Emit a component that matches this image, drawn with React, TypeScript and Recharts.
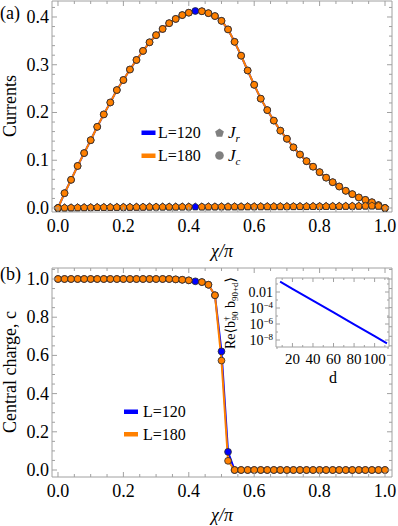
import React from "react";
import { ComposedChart, LineChart, Line, XAxis, YAxis, ReferenceArea } from "recharts";

// chi / pi sampling
const chi = [
  0, 0.02, 0.04, 0.06, 0.08, 0.1, 0.12, 0.14, 0.16, 0.18, 0.2, 0.22, 0.24, 0.26, 0.28, 0.3, 0.32,
  0.34, 0.36, 0.38, 0.4, 0.42, 0.44, 0.46, 0.48, 0.5, 0.52, 0.54, 0.56, 0.58, 0.6, 0.62, 0.64,
  0.66, 0.68, 0.7, 0.72, 0.74, 0.76, 0.78, 0.8, 0.82, 0.84, 0.86, 0.88, 0.9, 0.92, 0.94, 0.96,
  0.98, 1,
];

// panel (a): currents
const jcL120 = [
  0, 0.031, 0.059, 0.088, 0.115, 0.142, 0.17, 0.196, 0.221, 0.247, 0.268, 0.29, 0.31, 0.329,
  0.347, 0.362, 0.375, 0.387, 0.396, 0.404, 0.409, 0.4126, 0.412, 0.408, 0.402, 0.392, 0.374,
  0.348, 0.319, 0.288, 0.258, 0.229, 0.205, 0.183, 0.162, 0.145, 0.127, 0.112, 0.098, 0.0865,
  0.075, 0.0635, 0.054, 0.045, 0.036, 0.029, 0.022, 0.017, 0.012, 0.006, 0,
];
const jcL180 = [
  0, 0.031, 0.059, 0.088, 0.115, 0.142, 0.17, 0.196, 0.221, 0.247, 0.268, 0.29, 0.31, 0.329,
  0.347, 0.362, 0.375, 0.387, 0.396, 0.404, 0.409, null, 0.412, 0.408, 0.402, 0.392, 0.374,
  0.348, 0.319, 0.288, 0.258, 0.229, 0.205, 0.183, 0.162, 0.145, 0.127, 0.112, 0.098, 0.0865,
  0.075, 0.0635, 0.054, 0.045, 0.036, 0.029, 0.022, 0.017, 0.012, 0.006, 0,
];
const jrL120 = [
  0, 0.0003, 0.0005, 0.0007, 0.0009, 0.001, 0.0012, 0.0013, 0.0014, 0.0015, 0.0016, 0.0017,
  0.0018, 0.0019, 0.002, 0.002, 0.0021, 0.0022, 0.0022, 0.0023, 0.0023, 0.0024, 0.0024, 0.0025,
  0.0025, 0.0026, 0.0026, 0.0027, 0.0027, 0.0028, 0.0028, 0.0029, 0.0029, 0.003, 0.003, 0.0031,
  0.0031, 0.0032, 0.0032, 0.0033, 0.0033, 0.0034, 0.0035, 0.0036, 0.0037, 0.0038, 0.004, 0.0042,
  0.0045, 0.004, 0,
];
const jrL180 = [
  0, 0.0003, 0.0005, 0.0007, 0.0009, 0.001, 0.0012, 0.0013, 0.0014, 0.0015, 0.0016, 0.0017,
  0.0018, 0.0019, 0.002, 0.002, 0.0021, 0.0022, 0.0022, 0.0023, 0.0023, null, 0.0024, 0.0025,
  0.0025, 0.0026, 0.0026, 0.0027, 0.0027, 0.0028, 0.0028, 0.0029, 0.0029, 0.003, 0.003, 0.0031,
  0.0031, 0.0032, 0.0032, 0.0033, 0.0033, 0.0034, 0.0035, 0.0036, 0.0037, 0.0038, 0.004, 0.0042,
  0.0045, 0.004, 0,
];

// panel (b): central charge
const cL120 = [
  1, 1, 1, 1, 1, 1, 1, 1, 1, 1, 1, 1, 1, 1, 1, 1, 1, 1, 0.998, 0.996, 0.993, 0.988, 0.984, 0.97,
  0.915, 0.621, 0.095, 0, 0, 0, 0, 0, 0, 0, 0, 0, 0, 0, 0, 0, 0, 0, 0, 0, 0, 0, 0, 0, 0, 0, 0,
];
const cL180 = [
  1, 1, 1, 1, 1, 1, 1, 1, 1, 1, 1, 1, 1, 1, 1, 1, 1, 1, 0.998, 0.996, 0.993, null, 0.984, 0.97,
  0.915, 0.573, 0.048, 0, 0, 0, 0, 0, 0, 0, 0, 0, 0, 0, 0, 0, 0, 0, 0, 0, 0, 0, 0, 0, 0, 0, 0,
];

// inset: correlation vs distance
const insetD = [8, 20, 40, 60, 80, 100, 112];
const insetCorr = [0.195, 0.0251, 8.3e-4, 2.75e-5, 9.1e-7, 3.0e-8, 3.9e-9];

const xMajor = [0, 0.2, 0.4, 0.6, 0.8, 1];
const xTicks = [0, 0.05, 0.1, 0.15, 0.2, 0.25, 0.3, 0.35, 0.4, 0.45, 0.5, 0.55, 0.6, 0.65, 0.7, 0.75, 0.8, 0.85, 0.9, 0.95, 1];
const yaMajor = [0, 0.1, 0.2, 0.3, 0.4];
const yaTicks = [0, 0.02, 0.04, 0.06, 0.08, 0.1, 0.12, 0.14, 0.16, 0.18, 0.2, 0.22, 0.24, 0.26, 0.28, 0.3, 0.32, 0.34, 0.36, 0.38, 0.4, 0.42];
const ybMajor = [0, 0.2, 0.4, 0.6, 0.8, 1];
const ybTicks = [0, 0.05, 0.1, 0.15, 0.2, 0.25, 0.3, 0.35, 0.4, 0.45, 0.5, 0.55, 0.6, 0.65, 0.7, 0.75, 0.8, 0.85, 0.9, 0.95, 1, 1.05];
const dMajor = [20, 40, 60, 80, 100];
const dTicks = [10, 20, 30, 40, 50, 60, 70, 80, 90, 100, 110];
const logMajor = [1e-8, 1e-6, 1e-4, 1e-2];
const logTicks = [1e-9, 1e-8, 1e-7, 1e-6, 1e-5, 1e-4, 1e-3, 1e-2, 0.1];

const BLUE = "#0000ff";
const ORANGE = "#ff8000";
const FRAME = "#a0a0a0";
const SERIF = "Liberation Serif, Times New Roman, Tinos, DejaVu Serif, Noto Serif, serif";
const TXT = { fontFamily: SERIF };

const currents = chi.map((x, i) => ({
  x,
  jc120: jcL120[i],
  jr120: jrL120[i],
  jc180: jcL180[i],
  jr180: jrL180[i],
}));
const charge = chi.map((x, i) => ({ x, c120: cL120[i], c180: cL180[i] }));
const inset = insetD.map((d, i) => ({ d, v: insetCorr[i] }));

const near = (list: number[], v: number) =>
  list.some((m) => Math.abs(m - v) <= 1e-6 * Math.max(Math.abs(m), 1e-12));

const circleDot = (fill: string) => (p: any) => {
  if (p.cx == null || p.cy == null || p.value == null)
    return <g key={`e-${p.index}`} />;
  return (
    <circle key={`c-${p.index}`} cx={p.cx} cy={p.cy} r={3.4} fill={fill} stroke="#2a2a2a" strokeWidth={0.8} />
  );
};

const pentPath = (cx: number, cy: number, r: number) => {
  const pts: string[] = [];
  for (let k = 0; k < 5; k++) {
    const a = ((-90 + k * 72) * Math.PI) / 180;
    pts.push(`${cx + r * Math.cos(a)},${cy + r * Math.sin(a)}`);
  }
  return pts.join(" ");
};

const pentDot = (fill: string) => (p: any) => {
  if (p.cx == null || p.cy == null || p.value == null)
    return <g key={`e-${p.index}`} />;
  return (
    <polygon key={`p-${p.index}`} points={pentPath(p.cx, p.cy, 3.8)} fill={fill} stroke="#2a2a2a" strokeWidth={0.8} />
  );
};

// Mathematica-style inward ticks on both sides of the frame
const xTick = (top: number, bottom: number, majors: number[], fmt: (v: number) => string, fs: number, major = 5, minor = 3) => (p: any) => {
  const v = p.payload.value;
  const isMajor = near(majors, v);
  const len = isMajor ? major : minor;
  return (
    <g key={`xt-${v}`}>
      <line x1={p.x} y1={bottom} x2={p.x} y2={bottom - len} stroke={FRAME} />
      <line x1={p.x} y1={top} x2={p.x} y2={top + len} stroke={FRAME} />
      {isMajor && (
        <text x={p.x} y={bottom + fs + 2} textAnchor="middle" style={TXT} fontSize={fs} fill="#000">
          {fmt(v)}
        </text>
      )}
    </g>
  );
};

const yTick = (left: number, right: number, majors: number[], fmt: (v: number) => React.ReactNode, fs: number, major = 5, minor = 3) => (p: any) => {
  const v = p.payload.value;
  const isMajor = near(majors, v);
  const len = isMajor ? major : minor;
  return (
    <g key={`yt-${v}`}>
      <line x1={left} y1={p.y} x2={left + len} y2={p.y} stroke={FRAME} />
      <line x1={right} y1={p.y} x2={right - len} y2={p.y} stroke={FRAME} />
      {isMajor && (
        <text x={left - 3} y={p.y + fs * 0.33} textAnchor="end" style={TXT} fontSize={fs} fill="#000">
          {fmt(v)}
        </text>
      )}
    </g>
  );
};

const fmt1 = (v: number) => v.toFixed(1);

const logFmt = (v: number) => {
  if (Math.abs(v - 0.01) < 1e-9) return "0.01";
  const e = Math.round(Math.log10(v));
  return (
    <>
      10
      <tspan dy={-5} fontSize={9}>
        {`\u2212${-e}`}
      </tspan>
    </>
  );
};

// layout: plot areas (chart-local coordinates)
const A = { w: 398, h: 262, left: 52, right: 392, top: 1, bottom: 212 };
const B = { w: 398, h: 264, top0: 262, left: 52, right: 392, top: 6, bottom: 215 };
const I = { x0: 220, y0: 270, w: 175, h: 112, left: 56, right: 169, top: 8, bottom: 77 };

export default function App() {
  return (
    <div style={{ position: "absolute", left: 0, top: 0, width: 398, height: 526, background: "#fff", overflow: "hidden", fontFamily: SERIF }}>
      {/* panel (a) */}
      <div style={{ position: "absolute", left: 0, top: 0 }}>
        <ComposedChart
          width={A.w}
          height={A.h}
          data={currents}
          margin={{ top: A.top, right: A.w - A.right, bottom: 0, left: 0 }}
        >
          <XAxis
            dataKey="x"
            type="number"
            domain={[-0.0183, 1.0214]}
            ticks={xTicks}
            interval={0}
            height={A.h - A.bottom}
            axisLine={false}
            tickLine={false}
            allowDataOverflow
            tick={xTick(A.top, A.bottom, xMajor, fmt1, 18)}
          />
          <YAxis
            type="number"
            domain={[-0.0084, 0.4335]}
            ticks={yaTicks}
            interval={0}
            width={A.left}
            axisLine={false}
            tickLine={false}
            allowDataOverflow
            tick={yTick(A.left, A.right, yaMajor, fmt1, 18)}
          />
          <ReferenceArea x1={-0.0183} x2={1.0214} y1={-0.0084} y2={0.4335} fill="none" stroke={FRAME} strokeWidth={1} ifOverflow="visible" />
          <Line dataKey="jc120" stroke={BLUE} strokeWidth={2} dot={circleDot(BLUE)} isAnimationActive={false} />
          <Line dataKey="jr120" stroke={BLUE} strokeWidth={2} dot={pentDot(BLUE)} isAnimationActive={false} />
          <Line dataKey="jc180" stroke={ORANGE} strokeWidth={2} dot={circleDot(ORANGE)} connectNulls isAnimationActive={false} />
          <Line dataKey="jr180" stroke={ORANGE} strokeWidth={2} dot={pentDot(ORANGE)} connectNulls isAnimationActive={false} />
        </ComposedChart>
      </div>

      {/* panel (b) */}
      <div style={{ position: "absolute", left: 0, top: B.top0 }}>
        <ComposedChart
          width={B.w}
          height={B.h}
          data={charge}
          margin={{ top: B.top, right: B.w - B.right, bottom: 0, left: 0 }}
        >
          <XAxis
            dataKey="x"
            type="number"
            domain={[-0.0183, 1.0214]}
            ticks={xTicks}
            interval={0}
            height={B.h - B.bottom}
            axisLine={false}
            tickLine={false}
            allowDataOverflow
            tick={xTick(B.top, B.bottom, xMajor, fmt1, 18)}
          />
          <YAxis
            type="number"
            domain={[-0.0366, 1.0576]}
            ticks={ybTicks}
            interval={0}
            width={B.left}
            axisLine={false}
            tickLine={false}
            allowDataOverflow
            tick={yTick(B.left, B.right, ybMajor, fmt1, 18)}
          />
          <ReferenceArea x1={-0.0183} x2={1.0214} y1={-0.0366} y2={1.0576} fill="none" stroke={FRAME} strokeWidth={1} ifOverflow="visible" />
          <Line dataKey="c120" stroke={BLUE} strokeWidth={2} dot={circleDot(BLUE)} isAnimationActive={false} />
          <Line dataKey="c180" stroke={ORANGE} strokeWidth={2} dot={circleDot(ORANGE)} connectNulls isAnimationActive={false} />
        </ComposedChart>
      </div>

      {/* inset */}
      <div style={{ position: "absolute", left: I.x0, top: I.y0 }}>
        <LineChart
          width={I.w}
          height={I.h}
          data={inset}
          margin={{ top: I.top, right: I.w - I.right, bottom: 0, left: 0 }}
        >
          <XAxis
            dataKey="d"
            type="number"
            domain={[4, 114]}
            ticks={dTicks}
            interval={0}
            height={I.h - I.bottom}
            axisLine={false}
            tickLine={false}
            allowDataOverflow
            tick={xTick(I.top, I.bottom, dMajor, (v) => String(v), 15, 4, 2)}
          />
          <YAxis
            type="number"
            scale="log"
            domain={[1.334e-9, 0.5623]}
            ticks={logTicks}
            interval={0}
            width={I.left}
            axisLine={false}
            tickLine={false}
            allowDataOverflow
            tick={yTick(I.left, I.right, logMajor, logFmt, 14, 4, 2)}
          />
          <ReferenceArea x1={4} x2={114} y1={1.334e-9} y2={0.5623} fill="none" stroke={FRAME} strokeWidth={1} ifOverflow="visible" />
          <Line dataKey="v" stroke={BLUE} strokeWidth={2} dot={false} isAnimationActive={false} />
        </LineChart>
      </div>

      {/* labels and legends */}
      <svg width={398} height={526} style={{ position: "absolute", left: 0, top: 0, pointerEvents: "none", fontFamily: SERIF }}>
        <text x={0} y={19} fontSize={18} style={TXT}>(a)</text>
        <text x={0} y={280} fontSize={18} style={TXT}>(b)</text>

        <text x={16} y={106} fontSize={18} textAnchor="middle" transform="rotate(-90 16 106)" style={TXT}>Currents</text>
        <text x={16} y={372} fontSize={18} textAnchor="middle" transform="rotate(-90 16 372)" style={TXT}>Central charge, c</text>

        <text x={222} y={257} fontSize={18} textAnchor="middle" fontStyle="italic" style={TXT}>χ/π</text>
        <text x={222} y={521} fontSize={18} textAnchor="middle" fontStyle="italic" style={TXT}>χ/π</text>

        {/* legend (a) */}
        <rect x={141.5} y={130.5} width={14} height={4.5} fill={BLUE} />
        <text x={158} y={138} fontSize={16} style={TXT}>L=120</text>
        <rect x={141.5} y={153.5} width={14} height={4.5} fill={ORANGE} />
        <text x={158} y={161} fontSize={16} style={TXT}>L=180</text>
        <polygon points={pentPath(219.5, 133, 4.6)} fill="#808080" />
        <text x={228} y={138} fontSize={17} fontStyle="italic" style={TXT}>
          J<tspan dy={4} fontSize={11}>r</tspan>
        </text>
        <circle cx={219.5} cy={155.5} r={4.3} fill="#808080" />
        <text x={228} y={161} fontSize={17} fontStyle="italic" style={TXT}>
          J<tspan dy={4} fontSize={11}>c</tspan>
        </text>

        {/* legend (b) */}
        <rect x={124} y={409.5} width={14} height={4.5} fill={BLUE} />
        <text x={143} y={417} fontSize={16} style={TXT}>L=120</text>
        <rect x={124} y={432} width={14} height={4.5} fill={ORANGE} />
        <text x={143} y={440} fontSize={16} style={TXT}>L=180</text>

        {/* inset labels */}
        <text x={333} y={383} fontSize={16} textAnchor="middle" style={TXT}>d</text>
        <text x={235} y={313} fontSize={14} textAnchor="middle" transform="rotate(-90 235 313)" style={TXT}>
          Re⟨b<tspan dy={-5} fontSize={9}>†</tspan>
          <tspan dy={8} dx={-4} fontSize={9}>90</tspan>
          <tspan dy={-3}> b</tspan>
          <tspan dy={3} fontSize={9}>90+d</tspan>
          <tspan dy={-3}>⟩</tspan>
        </text>
      </svg>
    </div>
  );
}
